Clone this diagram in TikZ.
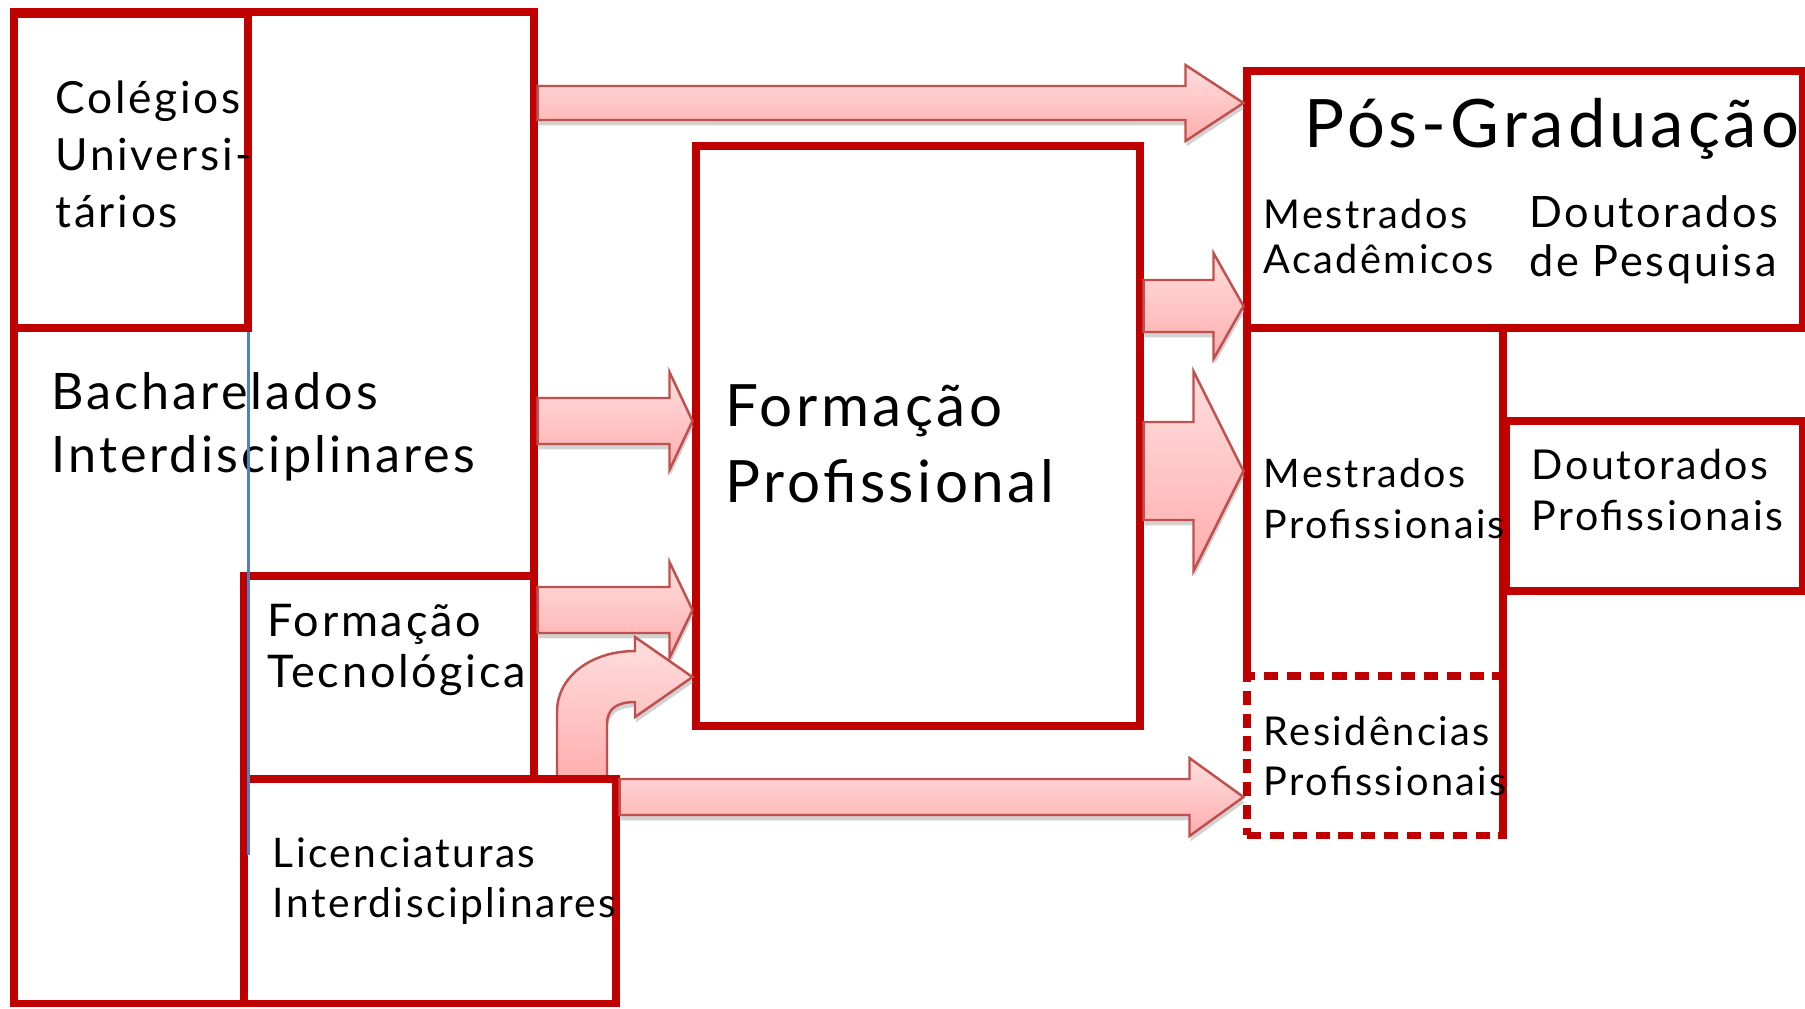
\documentclass[tikz,border=0pt]{standalone}
\usepackage{fontspec}
\setmainfont{Lato}[LetterSpace=6]
\usetikzlibrary{calc,fit,shadows}

\definecolor{boxred}{HTML}{C00000}
\definecolor{arrowedge}{HTML}{C0504D}
\definecolor{arrowtop}{HTML}{FFDEDE}
\definecolor{arrowbot}{HTML}{FFADAD}
\definecolor{guide}{HTML}{4F81BD}

\newlength\pxu
\setlength\pxu{0.01cm}
\newcommand\fsz[2]{\fontsize{#1}{#2}\selectfont}
% block arrow: start, tip, shaft half width, head half width, head length
\newcommand\blockarrow[5]{%
  \path[barrow] let \p1=(#1), \p2=(#2) in
    (\x1,\y2+#3*\pxu) -- (\x2-#5*\pxu,\y2+#3*\pxu) -- (\x2-#5*\pxu,\y2+#4*\pxu)
    -- (\x2,\y2) -- (\x2-#5*\pxu,\y2-#4*\pxu) -- (\x2-#5*\pxu,\y2-#3*\pxu)
    -- (\x1,\y2-#3*\pxu) -- cycle;}

\begin{document}
\begin{tikzpicture}[x=0.01cm,y=-0.01cm]
\tikzstyle{box}=[draw=boxred, line width=2pt, inner sep=0pt]
% labels hang on the baseline of their last line
\tikzstyle{label}=[anchor=base west, inner sep=0pt, align=left, text=black]
\tikzstyle{barrow}=[draw=arrowedge, line width=0.7pt,
	top color=arrowtop, bottom color=arrowbot,
	drop shadow={shadow xshift=0.3pt, shadow yshift=-1.5pt, fill=black!35, opacity=0.5}]
\useasboundingbox (0,0) rectangle (1805,1008);

% boxes
\node[box, fit={(14,12) (534,1003)}] (bach) {};
\node[box, fit={(14,14) (248,328)}] (col) {};
\node[box, fit={(244,576) (534,779)}] (ft) {};
\node[box, fit={(696,146) (1140,726)}] (fp) {};
\node[box, fit={(1247,71) (1803,328)}] (pos) {};
\node[inner sep=0pt, outer sep=1pt, fit={(1247,328) (1503,676)}] (mp) {};
\draw[boxred, line width=2pt] (1247,676) -- (1247,328) -- (1503,328) -- (1503,835);
\node[box, dash pattern=on 4pt off 2.5pt, fit={(1247,676) (1503,835)}] (res) {};
\node[box, fit={(1506,421) (1803,591)}] (dp) {};

% labels
\node[label, font=\fsz{12.6pt}{16.2pt}] (tcol) at (55,227) {Colégios\\Universi-\\tários};
\node[label, font=\fsz{14.3pt}{17.9pt}] (tbach) at (51,472) {Bacharelados\\Interdisciplinares};
\node[label, font=\fsz{12.8pt}{14.5pt}] (tft) at (267,687) {Formação\\Tecnológica};
\node[label, font=\fsz{16.6pt}{21.6pt}] (tfp) at (725,502) {Formação\\Profissional};
\node[label, font=\fsz{19pt}{20pt}] (tpos) at (1304,147) {Pós-Graduação};
\node[label, font=\fsz{11.3pt}{12.8pt}] (tma) at (1263,273) {Mestrados\\Acadêmicos};
\node[label, font=\fsz{12.3pt}{13.9pt}] (tdp) at (1529,276) {Doutorados\\de Pesquisa};
\node[label, font=\fsz{11.2pt}{14.5pt}] (tmp) at (1263,538) {Mestrados\\Profissionais};
\node[label, font=\fsz{11.7pt}{14.5pt}] (tdprof) at (1531,530) {Doutorados\\Profissionais};
\node[label, font=\fsz{11.3pt}{14.2pt}] (tres) at (1263,795) {Residências\\Profissionais};

% arrows
\blockarrow{bach.east |- 0,103}{pos.west |- 0,103}{17}{38}{58}
\blockarrow{bach.east |- 0,421}{fp.west |- 0,421}{23}{49}{23}
\blockarrow{ft.east |- 0,610}{fp.west |- 0,610}{23}{48}{23}
\path[barrow] (ft.south -| 557,0) -- (557,712)
	.. controls (557,676) and (592,651) .. (635,651) -- (635,637)
	-- (fp.west |- 0,677) -- (635,717) -- (635,702)
	.. controls (618,702) and (607,708) .. (607,724) -- (ft.south -| 607,0) -- cycle;
\node[box, fill=white, fit={(244,779) (616,1003)}] (lic) {};
\node[label, font=\fsz{11.6pt}{14.2pt}] (tlic) at (272,917) {Licenciaturas\\Interdisciplinares};
\draw[guide, line width=0.8pt] (col.south east -| 248.5,0) -- (248.5,855);
\blockarrow{fp.east |- 0,306}{pos.west |- 0,306}{26}{53}{30}
\blockarrow{fp.east |- 0,471}{mp.west |- 0,471}{49}{100}{50}
\blockarrow{lic.east |- 0,797}{res.west |- 0,797}{18}{39}{54}
\end{tikzpicture}
\end{document}
